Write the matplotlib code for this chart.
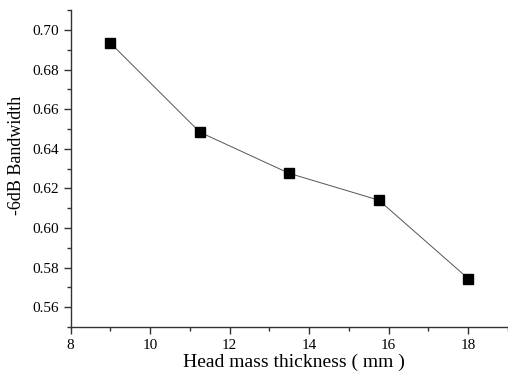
import matplotlib
matplotlib.use("Agg")
import matplotlib.pyplot as plt
from matplotlib.ticker import MultipleLocator

thickness = [9, 11.25, 13.5, 15.75, 18]
bandwidth = [0.6934, 0.6484, 0.6276, 0.6141, 0.5745]
xticks = [8, 10, 12, 14, 16, 18]
yticks = [0.56, 0.58, 0.60, 0.62, 0.64, 0.66, 0.68, 0.70]

plt.rcParams['font.family'] = ['Liberation Serif', 'DejaVu Serif']

fig = plt.figure(figsize=(5.08, 3.76), dpi=100)
ax = fig.add_axes([0.139, 0.130, 0.861, 0.843])
ax.plot(thickness, bandwidth, color='#555555', linewidth=0.7,
        marker='s', markersize=7, markerfacecolor='black', markeredgecolor='black')

ax.set_xlim(8, 19)
ax.set_ylim(0.55, 0.71)
ax.xaxis.set_minor_locator(MultipleLocator(1))
ax.yaxis.set_minor_locator(MultipleLocator(0.01))
ax.set_xticks(xticks)
ax.set_yticks(yticks)
ax.set_yticklabels([f"{v:.2f}" for v in yticks])

for s in ['top', 'right']:
    ax.spines[s].set_visible(False)
for s in ['left', 'bottom']:
    ax.spines[s].set_color('#333333')
    ax.spines[s].set_linewidth(1.0)

ax.tick_params(which='major', direction='out', length=5, width=1, labelsize=11, colors='#333333', labelcolor='black')
ax.tick_params(which='minor', direction='out', length=3, width=1, colors='#333333')

ax.set_xlabel('Head mass thickness ( mm )', fontsize=14)
ax.set_ylabel('-6dB Bandwidth', fontsize=13)
ax.xaxis.set_label_coords(0.511, -0.085)
ax.yaxis.set_label_coords(-0.105, 0.543)

fig.savefig('out.png', dpi=100)
